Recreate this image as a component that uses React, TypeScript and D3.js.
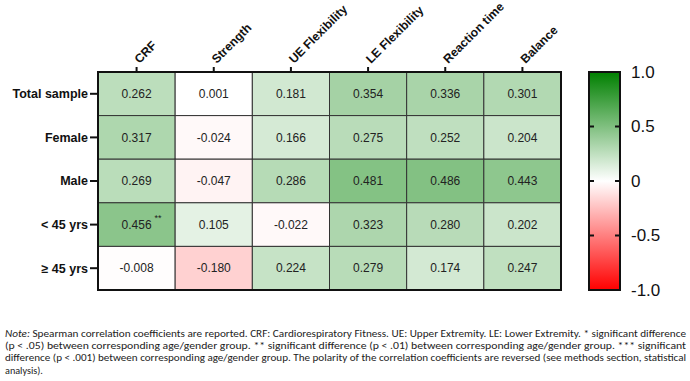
import * as d3 from 'd3';
import { type FC } from 'react';

const columns = ['CRF', 'Strength', 'UE Flexibility', 'LE Flexibility', 'Reaction time', 'Balance'];
const groups = ['Total sample', 'Female', 'Male', '< 45 yrs', '≥ 45 yrs'];

const totalSample = [0.262, 0.001, 0.181, 0.354, 0.336, 0.301];
const female = [0.317, -0.024, 0.166, 0.275, 0.252, 0.204];
const male = [0.269, -0.047, 0.286, 0.481, 0.486, 0.443];
const under45 = [0.456, 0.105, -0.022, 0.323, 0.28, 0.202];
const over45 = [-0.008, -0.18, 0.224, 0.279, 0.174, 0.247];
const rowValues = [totalSample, female, male, under45, over45];

// significance stars, keyed by "row|column"
const stars: Record<string, string> = { '< 45 yrs|CRF': '**' };

const legendTicks = [1, 0.5, 0, -0.5, -1];
const legendLabels = ['1.0', '0.5', '0', '-0.5', '-1.0'];

const noteLines = [
	'Spearman correlation coefficients are reported. CRF: Cardiorespiratory Fitness. UE: Upper Extremity. LE: Lower Extremity. * significant difference',
	'(p < .05) between corresponding age/gender group. ** significant difference (p < .01) between corresponding age/gender group. *** significant',
	'difference (p < .001) between corresponding age/gender group. The polarity of the correlation coefficients are reversed  (see methods section, statistical',
	'analysis).',
];

const W = 690;
const H = 381;

const margin = { top: 72, left: 98, right: 129, bottom: 91 };

const HeatMap: FC = () => {
	const boundsWidth = W - margin.left - margin.right;
	const boundsHeight = H - margin.top - margin.bottom;

	const scaleX = d3.scaleBand().domain(columns).range([0, boundsWidth]);
	const scaleY = d3.scaleBand().domain(groups).range([0, boundsHeight]);
	const color = d3
		.scaleLinear<string>()
		.domain([-1, 0, 1])
		.range(['#ff0000', '#ffffff', '#008000'])
		.interpolate(d3.interpolateRgb);

	const legendX = 589;
	const legendW = 31;
	const scaleLegend = d3.scaleLinear().domain([-1, 1]).range([boundsHeight, 0]);

	const font = '"Liberation Sans", Arial, sans-serif';

	return (
		<svg width={W} height={H} style={{ position: 'absolute', left: 0, top: 0 }} fontFamily={font}>
			<defs>
				<linearGradient id="legendGrad" x1="0" y1="1" x2="0" y2="0">
					{d3.range(0, 1.0001, 0.1).map((t) => (
						<stop key={t} offset={t} stopColor={color(t * 2 - 1)} />
					))}
				</linearGradient>
			</defs>
			<rect width={W} height={H} fill="#fff" />

			<g transform={`translate(${margin.left}, ${margin.top})`}>
				{/* cells */}
				{groups.map((g, i) =>
					columns.map((c, j) => {
						const v = rowValues[i][j];
						const x = scaleX(c)!;
						const y = scaleY(g)!;
						const star = stars[`${g}|${c}`];
						return (
							<g key={`${g}-${c}`}>
								<rect
									x={x}
									y={y}
									width={scaleX.bandwidth()}
									height={scaleY.bandwidth()}
									fill={color(v)}
									stroke="#333"
									strokeWidth={1}
								/>
								<text
									x={x + scaleX.bandwidth() / 2}
									y={y + scaleY.bandwidth() / 2}
									dy="0.35em"
									textAnchor="middle"
									fontSize={12}
									fill="#222"
								>
									{v.toFixed(3)}
								</text>
								{star && (
									<text
										x={x + scaleX.bandwidth() / 2 + 18}
										y={y + scaleY.bandwidth() / 2 - 4}
										fontSize={9}
										fill="#222"
									>
										{star}
									</text>
								)}
							</g>
						);
					})
				)}
				<rect width={boundsWidth} height={boundsHeight} fill="none" stroke="#111" strokeWidth={2} />

				{/* column axis */}
				{columns.map((c) => {
					const cx = scaleX(c)! + scaleX.bandwidth() / 2;
					return (
						<g key={c}>
							<line x1={cx} x2={cx} y1={-5} y2={0} stroke="#111" strokeWidth={2} />
							<text
								transform={`translate(${cx + 3}, -8) rotate(-45)`}
								fontSize={12.2}
								fontWeight="bold"
								fill="#111"
							>
								{c}
							</text>
						</g>
					);
				})}

				{/* row axis */}
				{groups.map((g) => {
					const cy = scaleY(g)! + scaleY.bandwidth() / 2;
					return (
						<g key={g}>
							<line x1={-8} x2={0} y1={cy} y2={cy} stroke="#111" strokeWidth={2} />
							<text x={-10} y={cy} dy="0.35em" textAnchor="end" fontSize={12.5} fontWeight="bold" fill="#111">
								{g}
							</text>
						</g>
					);
				})}

				{/* colour legend */}
				<g transform={`translate(${legendX - margin.left}, 0)`}>
					<rect width={legendW} height={boundsHeight} fill="url(#legendGrad)" stroke="#111" strokeWidth={2} />
					{legendTicks.map((t, k) => (
						<g key={t} transform={`translate(0, ${scaleLegend(t)})`}>
							{k > 0 && k < legendTicks.length - 1 && (
								<>
									<line x1={0} x2={5} stroke="#111" strokeWidth={2} />
									<line x1={legendW - 5} x2={legendW} stroke="#111" strokeWidth={2} />
								</>
							)}
							<text x={legendW + 11} dy="0.35em" fontSize={17} fill="#111">
								{legendLabels[k]}
							</text>
						</g>
					))}
				</g>
			</g>

			{/* footnote */}
			<g fontFamily='Carlito, Lato, "Open Sans", sans-serif' fontSize={10.2} fill="#222">
				{noteLines.map((line, i) => {
					const y = 337 + i * 12.2;
					const last = i === noteLines.length - 1;
					return (
						<text
							key={i}
							x={5}
							y={y}
							textLength={last ? undefined : 681}
							lengthAdjust={last ? undefined : 'spacingAndGlyphs'}
						>
							{i === 0 && <tspan fontStyle="italic">Note: </tspan>}
							{line}
						</text>
					);
				})}
			</g>
		</svg>
	);
};

export default function App() {
	return <HeatMap />;
}
